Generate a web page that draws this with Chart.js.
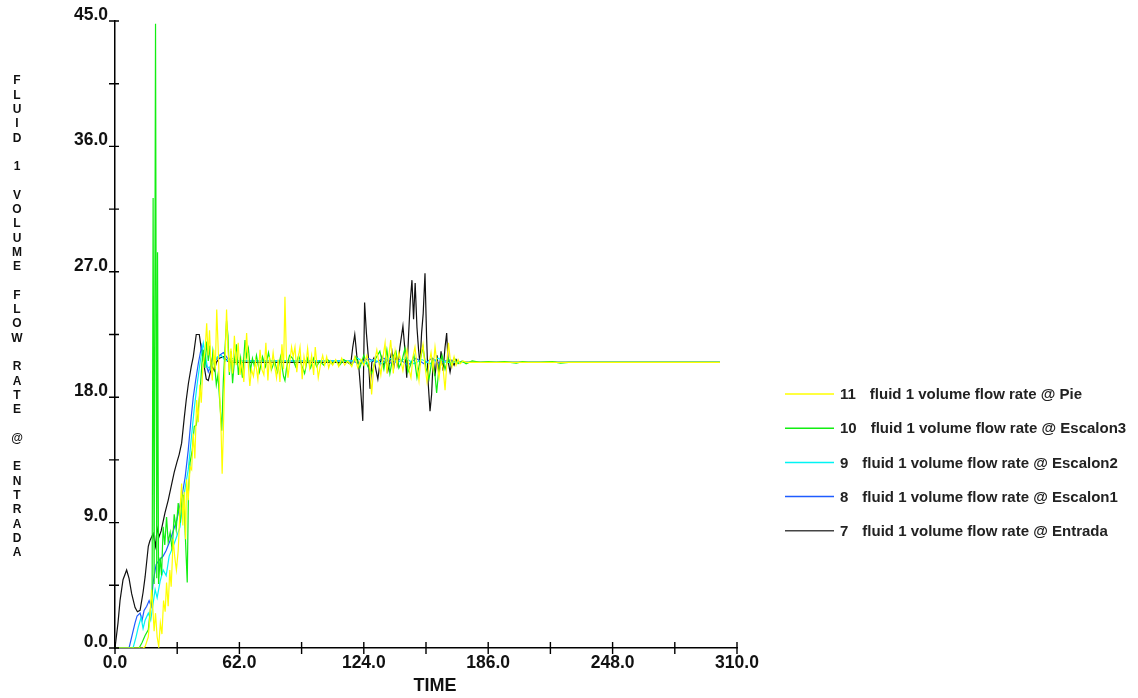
<!DOCTYPE html>
<html>
<head>
<meta charset="utf-8">
<script src="https://cdn.jsdelivr.net/npm/chart.js@4.4.1/dist/chart.umd.min.js"></script>
<style>
  body { margin: 0; background: #fff; }
</style>
</head>
<body>
<canvas id="flowChart" width="1138" height="698"></canvas>
<script>
// [time, flow rate] pairs
const entrada = [
  [0,0],[1.5,1.8],[2.5,3.4],[4,4.9],[5.8,5.6],[7,5.0],[8.3,3.9],[10,2.9],[11.2,2.6],[12.5,2.7],
  [14,4.0],[15,5.1],[16.6,7.3],[17.4,7.7],[19,8.2],[20.2,7.3],[21,8.6],[22,8.0],[23,8.4],[24.9,9.7],
  [26.5,10.6],[28,11.6],[29.5,12.6],[30.8,13.3],[32,13.9],[33.2,14.7],[34.5,16.5],[35.5,17.8],[36.6,19.0],[38,20.2],
  [39,20.9],[40.5,22.5],[42,22.5],[43,21.5],[44,20.6],[45.5,19.3],[46.5,19.2],[47.5,19.8],[48.5,20.2],[49.5,19.9],
  [50.5,20.5],[52,20.8],[54,20.9],[56,20.6],[58,20.5],[116,20.5],[117.5,20.4],[118.5,21.6],[119.5,22.5],[120.5,21.0],
  [121.5,20.2],[122.5,18.4],[123.5,16.3],[124.4,24.8],[125.3,22.6],[126.2,21.0],[127.1,18.6],[128,20.5],[129,20.8],[130,20.0],
  [131,19.3],[132,20.4],[133,20.9],[134,20.3],[135,20.7],[136,19.9],[137,20.6],[138,21.3],[139,20.2],[140,21.0],
  [141,20.3],[142,21.6],[143.5,23.1],[144.5,21.4],[145.4,19.4],[146.3,22.4],[147.2,25.0],[148,26.4],[148.8,23.6],[149.6,26.2],
  [150.5,23.0],[151.3,21.4],[152,20.3],[152.8,22.6],[153.6,24.0],[154.5,26.9],[155.3,22.3],[156.1,19.0],[157,17.0],[157.8,18.2],
  [158.6,20.8],[159.5,19.5],[160.5,21.0],[161.5,19.6],[162.5,21.3],[163.5,19.9],[164.5,21.6],[165.3,22.6],[166,20.6],[167,19.8],
  [168,20.6],[169,20.3],[170,20.7],[171,20.5],[301.5,20.5]
];

const escalon1 = [
  [0,0],[7,0],[8.5,0.9],[10,1.8],[11,2.3],[12.5,2.5],[13.5,2.0],[14.5,2.7],[15.8,3.0],[17,3.4],
  [18,3.0],[19,4.7],[20.5,6.0],[22,6.3],[24,6.6],[25.5,7.0],[27.4,7.7],[29,8.4],[30.8,9.2],[32,10.0],
  [33.5,11.0],[35,12.3],[36.5,14.2],[38,16.6],[39,18.0],[40.2,19.2],[41.5,20.4],[43.2,21.7],[44.3,20.9],[45.5,20.3],
  [46.5,19.8],[47.5,20.2],[48.5,20.8],[50,20.6],[52,21.0],[54,21.2],[56,20.8],[58,20.6],[62,20.6],[118,20.6],
  [122,20.4],[126,20.8],[130,20.5],[134,20.8],[138,20.4],[142,20.7],[146,20.3],[150,20.8],[154,20.4],[158,20.8],
  [162,20.4],[166,20.7],[170,20.5],[301.5,20.5]
];

const escalon2 = [
  [0,0],[9,0],[10.5,0.8],[11.6,1.5],[13,2.2],[14,1.4],[15,2.0],[16.6,2.5],[17.8,2.0],[19,3.2],
  [20,4.2],[21,3.6],[22.5,4.8],[24,5.6],[25.5,5.2],[27,6.6],[29,7.3],[30.5,7.9],[32.4,8.7],[34,10.6],
  [35.3,11.8],[36.5,12.8],[38,15.0],[39.5,17.2],[41,19.0],[42.5,20.6],[44,21.9],[45,21.0],[46,20.2],[47.5,20.0],
  [49,20.4],[51,20.9],[53,21.0],[55,20.6],[58,20.8],[62,20.6],[118,20.6],[121,20.8],[125,20.4],[129,20.7],
  [133,20.4],[137,20.8],[141,20.5],[145,20.8],[149,20.4],[153,20.7],[157,20.4],[161,20.8],[165,20.5],[170,20.5],
  [301.5,20.5]
];

const escalon3 = [
  [0,0],[12,0],[13.5,0.4],[15,0.9],[16.6,1.3],[17.5,2.6],[18.5,3.8],[19,32.3],[19.5,4.6],[20.2,44.8],
  [20.8,5.0],[21.2,28.4],[21.7,4.6],[22.5,6.5],[23.2,5.2],[24,8.7],[24.8,7.4],[25.7,9.4],[26.5,7.6],[27.5,8.3],
  [28.5,7.0],[29.5,9.6],[30.5,8.5],[31.5,10.4],[32.5,9.0],[33.5,11.0],[34.3,10.9],[35,8.2],[36,4.7],[36.6,11.2],
  [37.4,13.3],[38.5,14.2],[39.5,15.9],[40.5,16.0],[41.5,17.1],[42.5,18.6],[43.3,20.4],[44,21.4],[44.8,20.1],[45.7,22.0],
  [46.5,20.6],[47.2,21.7],[48,19.8],[48.8,21.3],[49.6,20.4],[50.5,18.9],[51.3,19.6],[52.3,17.5],[53.2,15.6],[54,19.2],
  [54.8,21.4],[55.6,23.5],[56.3,22.4],[57,19.6],[57.8,21.3],[58.6,19.0],[59.5,20.6],[60.5,21.8],[61.5,19.6],[62.5,20.8],
  [63.5,19.4],[64.8,22.1],[65.6,20.9],[66.5,21.5],[67.5,19.9],[68.5,20.8],[69.5,20.2],[70.5,21.0],[72,19.8],[73.5,20.9],
  [75,20.2],[76.5,21.2],[78,20.0],[79.5,20.6],[81,19.8],[82.5,20.9],[84,19.5],[84.7,19.2],[85.5,20.1],[87,21.0],
  [88.5,20.8],[90,20.2],[91.5,21.0],[93,20.3],[94.5,19.7],[96,20.8],[97.5,20.1],[99,20.8],[100.5,20.2],[102,20.6],
  [104,20.3],[106,20.7],[108,20.4],[110,20.6],[112,20.3],[114,20.7],[116,20.5],[118,20.3],[120,20.9],[122,20.1],
  [124,21.0],[126,20.2],[128,19.7],[130,20.8],[132,21.3],[134,20.0],[135.5,21.4],[137,19.7],[138.5,20.9],[140,21.3],
  [141.5,20.1],[143,20.6],[144.5,21.5],[146,19.8],[147.5,20.4],[149,21.0],[150.5,19.4],[152,20.6],[153.5,21.6],[155,20.1],
  [156.5,19.3],[158,20.7],[159.5,19.6],[160.3,18.3],[161.5,20.2],[163,21.0],[164.5,20.0],[166,20.8],[167.5,20.3],[169,20.8],
  [171,20.4],[173,20.6],[175,20.4],[178,20.6],[182,20.5],[186,20.55],[190,20.5],[194,20.55],[200,20.45],[203,20.55],
  [206,20.5],[212,20.5],[218,20.55],[222,20.45],[226,20.5],[301.5,20.5]
];

const pie = [
  [0,0],[14,0],[15,0.1],[16.6,0.8],[17.4,2.2],[18.2,4.2],[18.8,3.0],[19.5,1.2],[20.2,2.5],[21,0.8],
  [21.8,0.1],[22.6,1.8],[23.4,1.0],[24.2,3.4],[25,2.6],[25.7,4.7],[26.5,3.0],[27.3,5.6],[28,4.4],[29,7.8],
  [29.8,6.5],[30.6,5.6],[31.5,7.0],[32.4,9.9],[33.2,11.8],[33.8,8.8],[34.5,11.2],[35.2,7.8],[35.7,12.1],[36.5,10.6],
  [37.4,13.0],[38.2,12.8],[39,15.4],[39.8,13.6],[40.7,17.8],[41.5,16.2],[42.3,18.9],[43,17.6],[43.8,20.2],[44.9,21.4],
  [45.7,23.3],[46.4,21.0],[47.1,22.8],[47.8,20.4],[48.5,19.2],[49.2,21.4],[50,20.0],[50.7,24.3],[51.4,21.6],[52.1,18.5],
  [52.8,16.0],[53.4,12.5],[54,15.6],[54.7,19.8],[55.6,24.3],[56.3,21.4],[57,19.8],[57.8,21.5],[58.6,19.7],[59.5,22.4],
  [60.4,20.3],[61.4,21.9],[62.3,19.6],[63.2,20.6],[64.2,19.1],[65.6,22.6],[66.4,20.4],[67.2,18.8],[68,20.0],[69,19.5],
  [70,20.6],[71.2,19.3],[72.3,21.4],[73.2,20.0],[74.2,19.6],[75.2,21.9],[76.2,19.2],[77,20.9],[77.8,20.0],[78.8,21.2],
  [79.6,20.2],[80.5,19.4],[81.3,20.7],[82.2,19.1],[83.2,21.8],[84,20.0],[84.7,25.2],[85.4,21.0],[86.2,19.4],[87.2,20.6],
  [88,21.6],[88.8,20.9],[89.7,21.6],[90.6,19.8],[91.5,21.0],[92.2,21.6],[93.3,19.3],[94.2,20.9],[95,20.2],[96,21.5],
  [97,20.1],[98,21.0],[99,19.6],[99.8,21.6],[101.3,19.4],[102.5,20.4],[103.5,21.0],[104.5,20.3],[105.5,20.9],[106.5,20.1],
  [107.5,20.6],[108.5,20.3],[110,20.7],[111.5,20.2],[113,20.8],[114.5,20.3],[116,20.6],[118,20.2],[119.5,20.9],[121,20.1],
  [122.5,20.7],[124,20.3],[125.5,21.0],[127,20.1],[127.9,18.2],[129,20.3],[130.5,21.4],[131.5,20.5],[132.5,19.6],[133.5,20.8],
  [134.6,21.9],[135.5,19.7],[136.5,21.0],[137.4,22.1],[138.7,19.7],[139.6,21.3],[140.5,20.3],[141.5,21.2],[142.5,20.6],[143.5,19.9],
  [144.5,20.8],[145.5,21.4],[146.5,20.0],[147.5,19.4],[148.5,20.9],[149.5,21.6],[150.5,20.3],[151.5,19.2],[152.5,21.0],[153.5,21.8],
  [154.5,20.2],[155.5,19.1],[156.5,20.4],[157.5,21.2],[158.5,20.0],[159.5,21.6],[160.5,20.4],[161.5,19.4],[162.5,20.6],[163.5,20.1],
  [164.5,18.5],[165.5,20.7],[166.2,21.9],[167,20.8],[168,20.2],[169,20.9],[170,20.3],[171,20.7],[172,20.4],[173.5,20.6],
  [175,20.5],[301.5,20.5]
];

const seriesNumbers = ['11', '10', '9', '8', '7'];
const seriesNames = ['Pie', 'Escalon3', 'Escalon2', 'Escalon1', 'Entrada'];
const seriesData = [pie, escalon3, escalon2, escalon1, entrada];
const seriesColors = ['#ffff00', '#11ee11', '#00f4f4', '#1f5cff', '#111111'];

const yTitle = 'FLUID 1 VOLUME FLOW RATE @ ENTRADA';
const xTitle = 'TIME';

const FONT = '"Liberation Sans", Arial, Helvetica, sans-serif';

function isMultiple(value, step) {
  return Math.abs(value / step - Math.round(value / step)) < 1e-6;
}

// crossing tick marks, stacked y title, TIME label and the legend on the right
const decorPlugin = {
  id: 'decor',
  afterDraw(chart) {
    const ctx = chart.ctx;
    const xs = chart.scales.x;
    const ys = chart.scales.y;
    ctx.save();
    ctx.strokeStyle = '#000';
    ctx.lineWidth = 1.4;
    ctx.beginPath();
    xs.ticks.forEach(t => {
      const px = xs.getPixelForValue(t.value);
      ctx.moveTo(px, ys.bottom - 6);
      ctx.lineTo(px, ys.bottom + 6);
    });
    ys.ticks.forEach(t => {
      const py = ys.getPixelForValue(t.value);
      ctx.moveTo(xs.left - 6, py);
      ctx.lineTo(xs.left + 4, py);
    });
    ctx.stroke();

    ctx.fillStyle = '#111';
    ctx.textAlign = 'center';
    ctx.textBaseline = 'middle';
    ctx.font = 'bold 12px ' + FONT;
    yTitle.split('').forEach((ch, i) => {
      if (ch !== ' ') ctx.fillText(ch, 17, 81 + i * 14.3);
    });

    ctx.font = 'bold 18px ' + FONT;
    ctx.fillText(xTitle, 435, 686);

    ctx.textAlign = 'left';
    ctx.font = 'bold 15px ' + FONT;
    seriesNames.forEach((name, i) => {
      const y = 394 + i * 34.2;
      ctx.strokeStyle = seriesColors[i] === '#111111' ? '#444' : seriesColors[i];
      ctx.lineWidth = 1.5;
      ctx.beginPath();
      ctx.moveTo(785, y);
      ctx.lineTo(834, y);
      ctx.stroke();
      ctx.fillStyle = '#222';
      ctx.fillText(seriesNumbers[i], 840, y + 1);
      const w = ctx.measureText(seriesNumbers[i]).width;
      ctx.fillText('fluid 1 volume flow rate @ ' + name, 840 + w + 14, y + 1);
    });
    ctx.restore();
  }
};

function createChart() {
  const ctx = document.getElementById('flowChart').getContext('2d');
  return new Chart(ctx, {
    type: 'line',
    data: {
      datasets: seriesData.map((pts, i) => ({
        label: seriesNumbers[i] + ' fluid 1 volume flow rate @ ' + seriesNames[i],
        data: pts.map(p => ({ x: p[0], y: p[1] })),
        borderColor: seriesColors[i],
        borderWidth: 1.2,
        pointRadius: 0,
        tension: 0,
        fill: false
      }))
    },
    options: {
      responsive: false,
      animation: false,
      layout: { padding: { left: 0, top: 21, right: 401, bottom: 0 } },
      plugins: {
        legend: { display: false },
        tooltip: { enabled: false }
      },
      scales: {
        x: {
          type: 'linear',
          min: 0,
          max: 310,
          afterFit: scale => { scale.height = 50; },
          grid: { display: false, drawTicks: false },
          border: { display: true, color: '#000', width: 1.5 },
          ticks: {
            stepSize: 31,
            autoSkip: false,
            maxRotation: 0,
            padding: 5,
            color: '#111',
            font: { family: FONT, size: 17.5, weight: 'bold' },
            callback: v => isMultiple(v, 62) ? v.toFixed(1) : ''
          }
        },
        y: {
          min: 0,
          max: 45,
          afterFit: scale => { scale.width = 115; },
          grid: { display: false, drawTicks: false },
          border: { display: true, color: '#000', width: 1.5 },
          ticks: {
            stepSize: 4.5,
            autoSkip: false,
            padding: 7,
            labelOffset: -6,
            color: '#111',
            font: { family: FONT, size: 17.5, weight: 'bold' },
            callback: v => isMultiple(v, 9) ? v.toFixed(1) : ''
          }
        }
      }
    },
    plugins: [decorPlugin]
  });
}

document.addEventListener('DOMContentLoaded', () => {
  createChart();
});
</script>
</body>
</html>
